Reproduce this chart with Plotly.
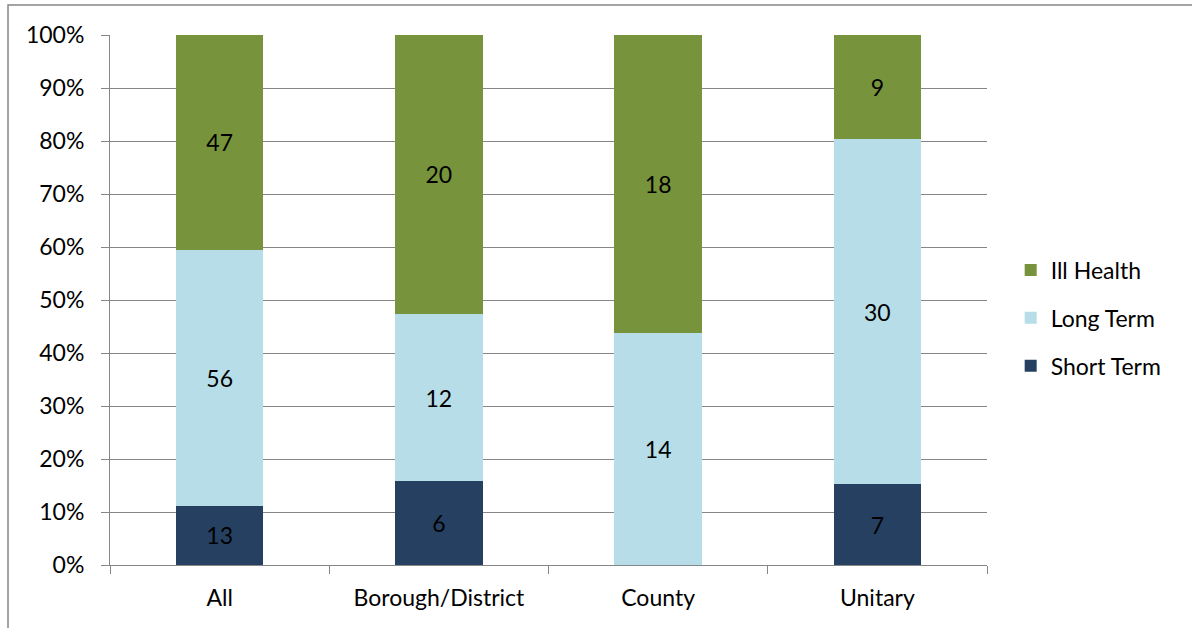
import plotly.graph_objects as go

categories = ["All", "Borough/District", "County", "Unitary"]
short_term = [13, 6, 0, 7]
long_term = [56, 12, 14, 30]
ill_health = [47, 20, 18, 9]

series = [
    ("Short Term", short_term, "#254061", 3),
    ("Long Term", long_term, "#B7DDE8", 2),
    ("Ill Health", ill_health, "#77933C", 1),
]

FONT = "Lato, 'Open Sans', sans-serif"
FS = 23
fig = go.Figure()
for name, vals, color, rank in series:
    fig.add_trace(go.Bar(
        name=name, x=categories, y=vals,
        marker=dict(color=color, line=dict(width=0)),
        text=[str(v) if v else "" for v in vals],
        textposition="inside", insidetextanchor="middle", textangle=0,
        textfont=dict(color="black", size=FS, family=FONT),
        legendgroup=name, legendrank=rank,
    ))

fig.update_layout(
    barmode="stack", barnorm="percent", bargap=0.6,
    width=1192, height=628,
    margin=dict(l=110, r=205, t=35, b=63),
    paper_bgcolor="white", plot_bgcolor="white",
    font=dict(family=FONT, size=FS, color="black"),
    uniformtext=dict(minsize=FS, mode="show"),
    legend=dict(x=1.027, xanchor="left", y=0.466, yanchor="middle",
                traceorder="grouped", tracegroupgap=15,
                font=dict(size=FS, family=FONT)),
    xaxis=dict(showline=True, linecolor="#868686", linewidth=1,
               ticks="outside", tickson="boundaries", ticklen=8, tickcolor="#868686",
               showgrid=False, ticklabelstandoff=12),
    yaxis=dict(range=[0, 100], dtick=10, ticksuffix="%", showline=True,
               linecolor="#868686", linewidth=1, ticks="outside", ticklen=8,
               tickcolor="#868686", showgrid=True, gridcolor="#868686", gridwidth=1,
               zeroline=False, ticklabelstandoff=12),
    shapes=[dict(type="rect", xref="paper", yref="paper",
                 x0=-0.1163, x1=1.25, y0=-0.15, y1=1.0566,
                 line=dict(color="#868686", width=1.5), layer="below")],
)

fig.write_html("out.html")
